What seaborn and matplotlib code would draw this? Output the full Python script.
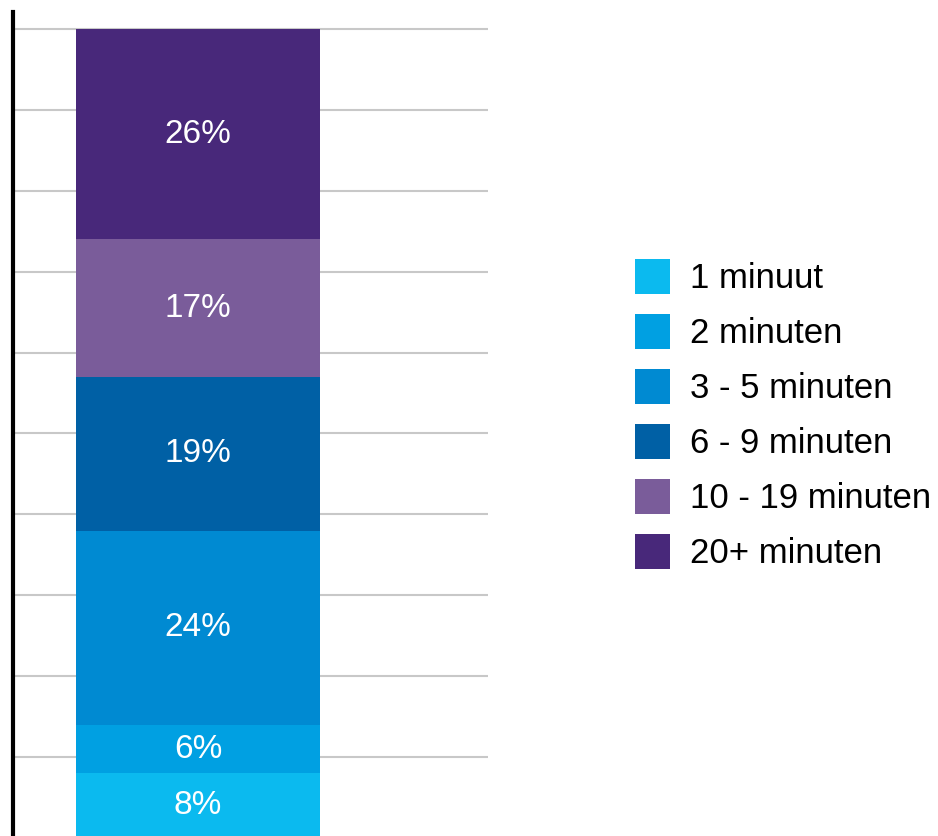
import matplotlib
matplotlib.use("Agg")
import matplotlib.pyplot as plt
from matplotlib.patches import Patch
import seaborn as sns


# Data: share of respondents per duration, bottom segment first
categories = ["1 minuut", "2 minuten", "3 - 5 minuten", "6 - 9 minuten",
              "10 - 19 minuten", "20+ minuten"]
shares = [8, 6, 24, 19, 17, 26]
segment_labels = ["8%", "6%", "24%", "19%", "17%", "26%"]
colors = ["#0BBAEF", "#00A0E2", "#008AD2", "#0060A5", "#7A5C9A", "#48287A"]
grid_ticks = [0, 10, 20, 30, 40, 50, 60, 70, 80, 90, 100]

sns.set_theme(style="white")
plt.rcParams["font.family"] = ["Liberation Sans", "DejaVu Sans"]
plt.rcParams["text.color"] = "black"

fig = plt.figure(figsize=(9.38, 8.36), dpi=100)
ax = fig.add_axes([13 / 938, -2 / 836, 475 / 938, 826 / 836])

# stack the segments one on top of the other
bottom = 0
for cat, val, lab, col in zip(categories, shares, segment_labels, colors):
    sns.barplot(x=[""], y=[val], bottom=bottom, color=col, width=0.8,
                saturation=1, linewidth=0, ax=ax, zorder=3)
    ax.bar_label(ax.containers[-1], labels=[lab], label_type="center",
                 color="white", fontsize=24)
    bottom += val

ax.set_xlim(-0.6065, 0.9508)
ax.set_ylim(0, 102.1)
ax.set_yticks(grid_ticks)
ax.set_yticklabels([])
ax.set_xticks([])
ax.tick_params(left=False, bottom=False)
ax.yaxis.grid(True, color="#C8C8C8", linewidth=1.5, zorder=0)
ax.set_axisbelow(True)
ax.set_xlabel("")
ax.set_ylabel("")

for side in ["top", "right", "bottom"]:
    ax.spines[side].set_visible(False)
ax.spines["left"].set_color("black")
ax.spines["left"].set_linewidth(3)

handles = [Patch(facecolor=c, edgecolor="none") for c in colors]
leg = fig.legend(handles, categories, loc="upper left",
                 bbox_to_anchor=(635 / 938, 1 - 259 / 836),
                 frameon=False, fontsize=25, handlelength=1.0,
                 handleheight=1.174, handletextpad=0.58, labelspacing=0.54,
                 borderpad=0, borderaxespad=0)
for t in leg.get_texts():
    t.set_color("black")

fig.savefig("out.png", dpi=100)
